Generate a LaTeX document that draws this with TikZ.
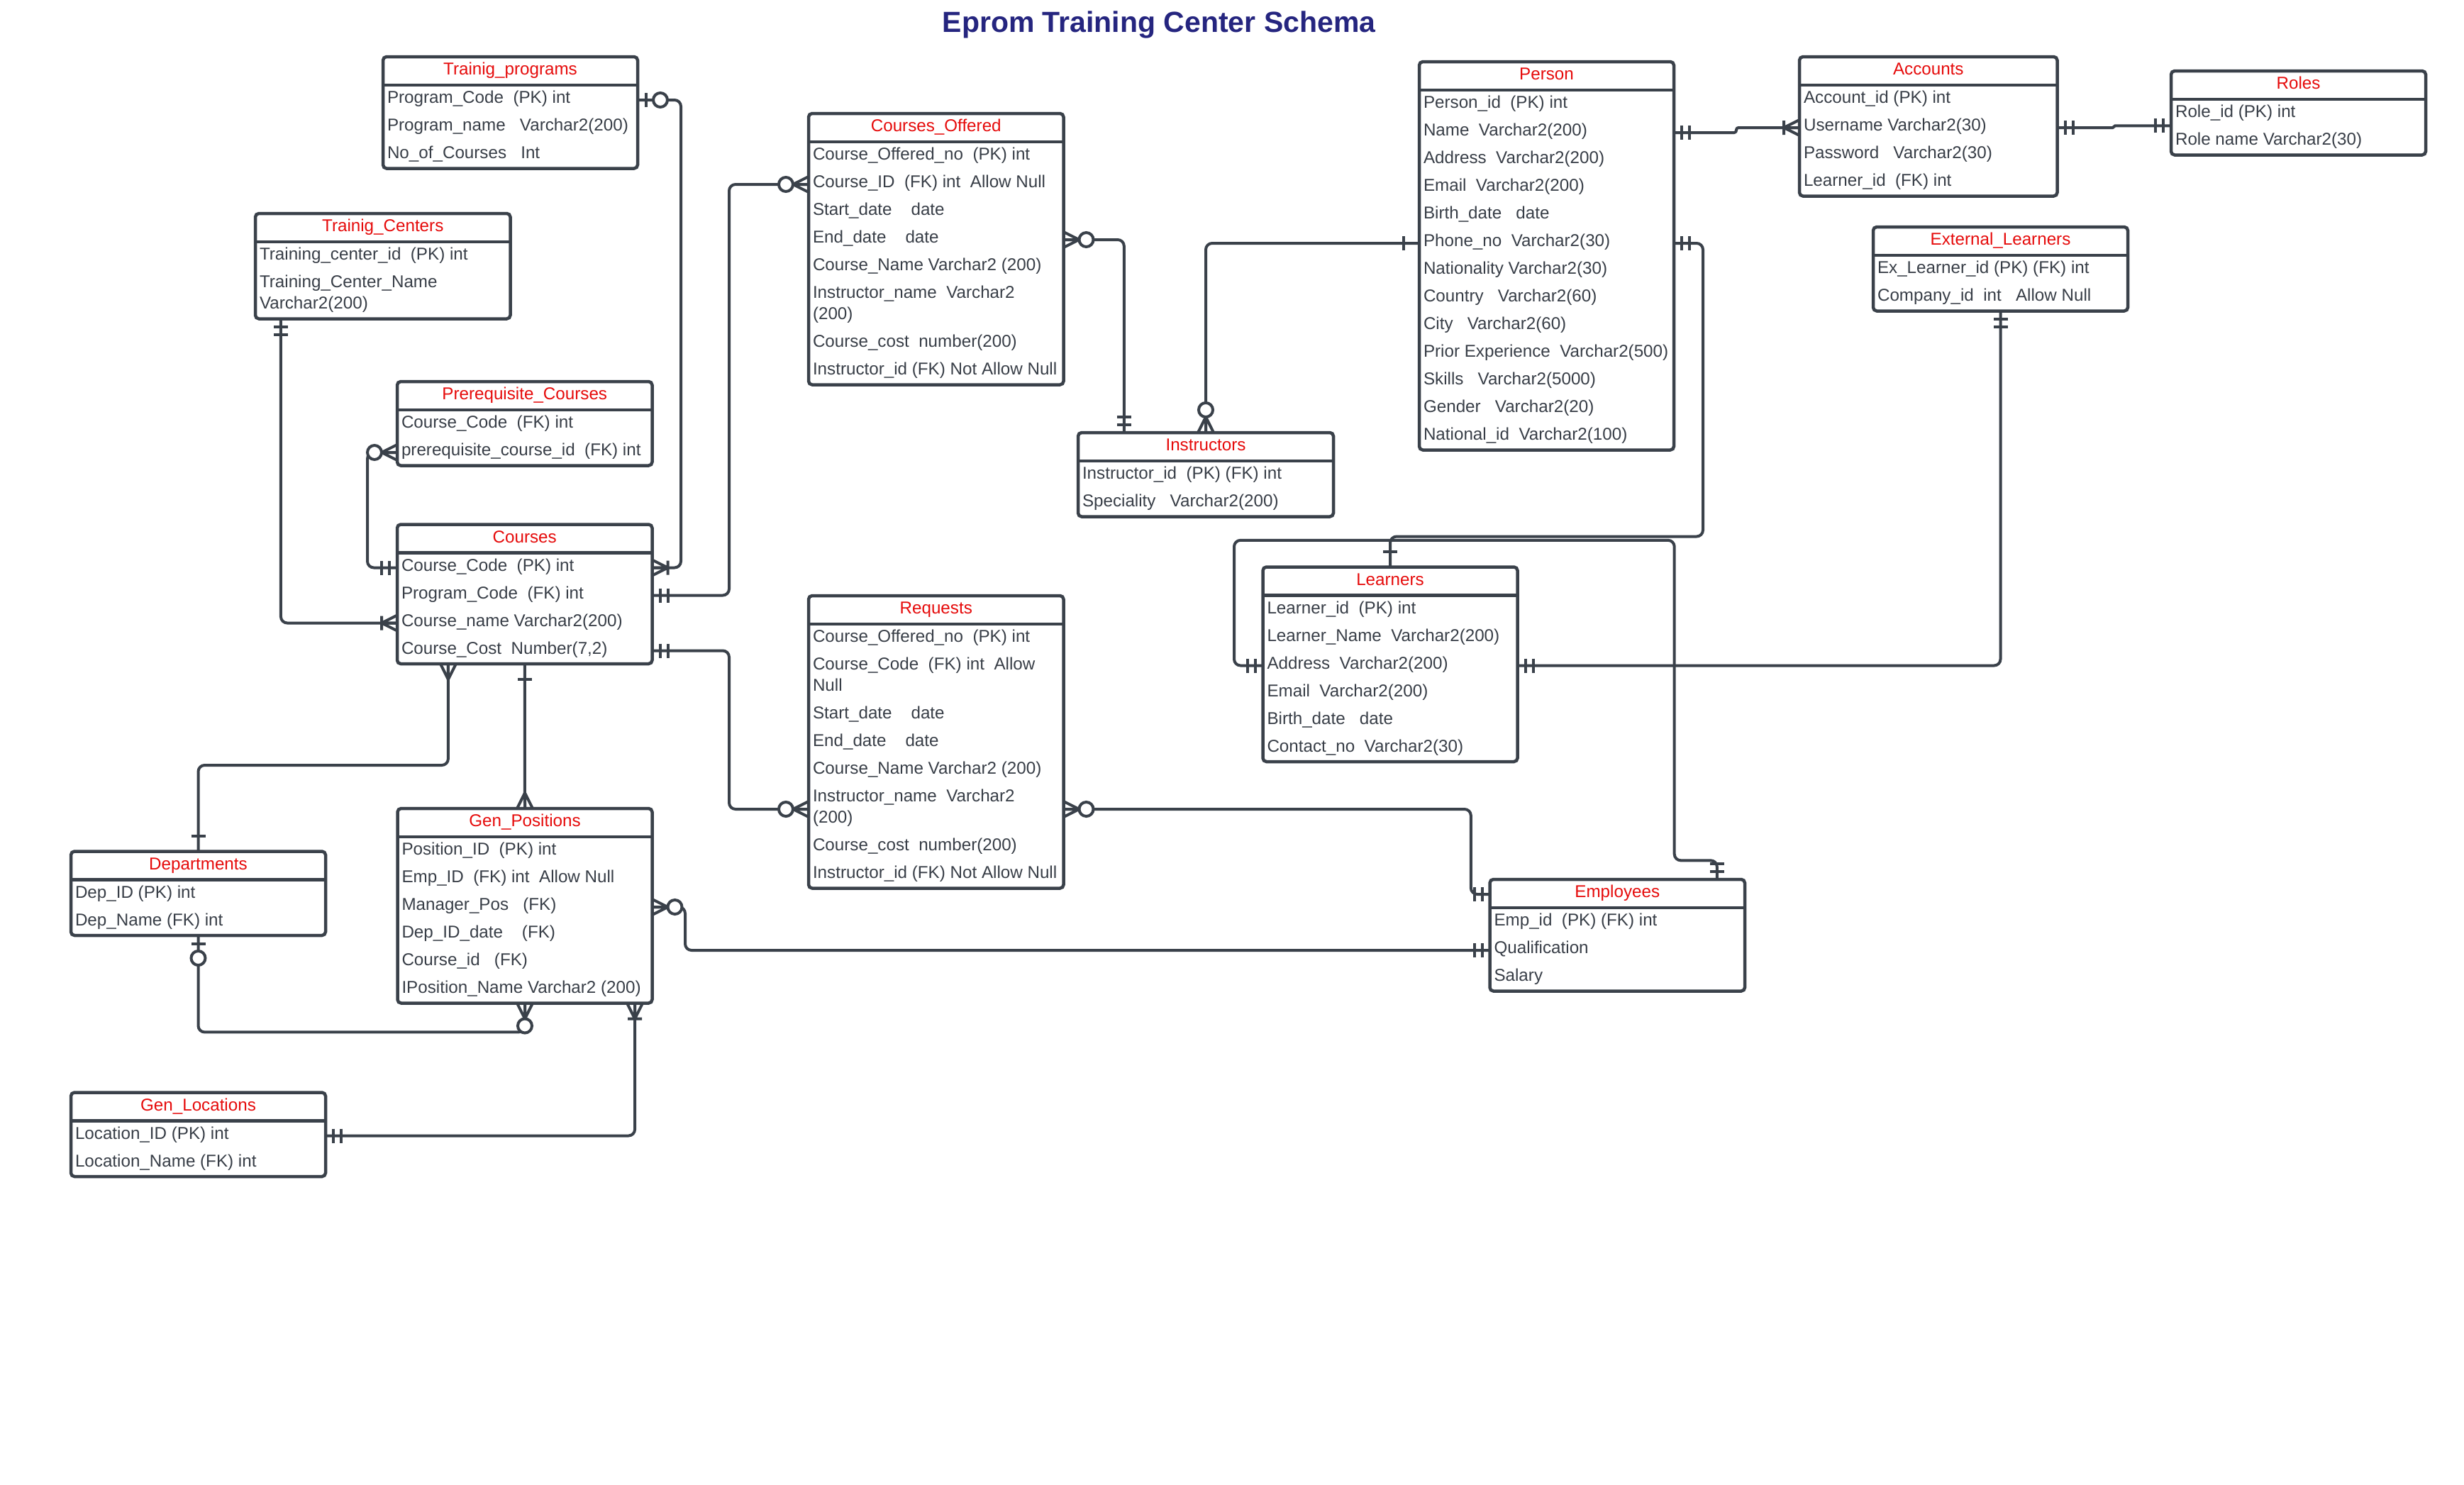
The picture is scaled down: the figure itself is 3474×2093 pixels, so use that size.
\documentclass[tikz,border=0pt]{standalone}
\usepackage{fontspec}
\setmainfont{Liberation Sans}
\usetikzlibrary{calc}
\definecolor{lc}{HTML}{3A414A}
\definecolor{tx}{HTML}{383E47}
\definecolor{hr}{HTML}{E60B0B}
\definecolor{tt}{HTML}{25257F}
\newcommand\rowfont{\fontsize{24.2pt}{30pt}\selectfont}
\tikzset{
  tbl/.style={draw=lc, line width=4.5pt, fill=white, rounded corners=5pt, inner sep=0pt, outer sep=0pt},
  hdr/.style={draw=lc, line width=4.5pt},
  rowtxt/.style={anchor=west, inner sep=0pt, outer sep=0pt, text height=16pt, text depth=7pt, font=\rowfont, text=tx},
  ttl/.style={rowtxt, anchor=center, text=hr},
  conn/.style={draw=lc, line width=4pt, rounded corners=9pt, line join=round},
  mkline/.style={draw=lc, line width=4pt},
  mkone/.pic={\draw[mkline] (22,-10)--(22,10);},
  mktwo/.pic={\draw[mkline] (11,-10)--(11,10) (22,-10)--(22,10);},
  mkzone/.pic={\draw[mkline] (12,-10)--(12,10); \draw[mkline,fill=white] (32,0) circle[radius=10pt];},
  mkmany/.pic={\draw[mkline] (0,-11)--(22,0)--(0,11) (0,0)--(22,0);},
  mkonemany/.pic={\draw[mkline] (0,-11)--(22,0)--(0,11) (0,0)--(22,0) (22,-10)--(22,10);},
  mkzmany/.pic={\draw[mkline] (0,-11)--(22,0)--(0,11) (0,0)--(22,0); \draw[mkline,fill=white] (32,0) circle[radius=10pt];},
}
\newcommand\ertable[6]{%
  \node[tbl, minimum width=#4pt, minimum height=#5pt, anchor=north west] (#1) at (#2,#3) {};
  \draw[hdr] ($(#1.north west)+(0,40)$) -- ($(#1.north east)+(0,40)$);
  \node[ttl] (#1-h) at ($(#1.north)+(0,21)$) {#6};}
\newcommand\erow[4]{\node[rowtxt] (#1) at ($(#2.north west)+(6,#3)$) {#4};}
\begin{document}
\begin{tikzpicture}[x=1pt,y=-1pt]
\fill[white] (0,0) rectangle (3474,2093);
\useasboundingbox (0,0) rectangle (3474,2093);

\node[anchor=base, inner sep=0pt, text=tt, font=\fontsize{41pt}{48pt}\selectfont\bfseries] (title) at (1634,46) {Eprom Training Center Schema};

% ---------- tables ----------
\ertable{tp}{540}{80}{359}{157.5}{Trainig\_programs}
\erow{tp-r1}{tp}{61}{Program\_Code~~(PK) int}
\erow{tp-r2}{tp}{100}{Program\_name~~~Varchar2(200)}
\erow{tp-r3}{tp}{139}{No\_of\_Courses~~~Int}

\ertable{tc}{360}{301}{359.5}{148.5}{Trainig\_Centers}
\erow{tc-r1}{tc}{61}{Training\_center\_id~~(PK) int}
\erow{tc-r2a}{tc}{100}{Training\_Center\_Name}
\erow{tc-r2b}{tc}{130}{Varchar2(200)}

\ertable{pc}{560}{538}{359.5}{118.5}{Prerequisite\_Courses}
\erow{pc-r1}{pc}{61}{Course\_Code~~(FK) int}
\erow{pc-r2}{pc}{100}{prerequisite\_course\_id~~(FK) int}

\ertable{cs}{560}{739.5}{359.5}{196.5}{Courses}
\erow{cs-r1}{cs}{61}{Course\_Code~~(PK) int}
\erow{cs-r2}{cs}{100}{Program\_Code~~(FK) int}
\erow{cs-r3}{cs}{139}{Course\_name Varchar2(200)}
\erow{cs-r4}{cs}{178}{Course\_Cost~~Number(7,2)}

\ertable{co}{1140}{160}{359.5}{382.5}{Courses\_Offered}
\erow{co-r1}{co}{61}{Course\_Offered\_no~~(PK) int}
\erow{co-r2}{co}{100}{Course\_ID~~(FK) int~~Allow Null}
\erow{co-r3}{co}{139}{Start\_date~~~~date}
\erow{co-r4}{co}{178}{End\_date~~~~date}
\erow{co-r5}{co}{217}{Course\_Name Varchar2 (200)}
\erow{co-r6a}{co}{256}{Instructor\_name~~Varchar2}
\erow{co-r6b}{co}{286}{(200)}
\erow{co-r7}{co}{325}{Course\_cost~~number(200)}
\erow{co-r8}{co}{364}{Instructor\_id (FK) Not Allow Null}

\ertable{in}{1520}{610}{360}{118.5}{Instructors}
\erow{in-r1}{in}{61}{Instructor\_id~~(PK) (FK) int}
\erow{in-r2}{in}{100}{Speciality~~~Varchar2(200)}

\ertable{rq}{1140}{840}{359.5}{412.5}{Requests}
\erow{rq-r1}{rq}{61}{Course\_Offered\_no~~(PK) int}
\erow{rq-r2a}{rq}{100}{Course\_Code~~(FK) int~~Allow}
\erow{rq-r2b}{rq}{130}{Null}
\erow{rq-r3}{rq}{169}{Start\_date~~~~date}
\erow{rq-r4}{rq}{208}{End\_date~~~~date}
\erow{rq-r5}{rq}{247}{Course\_Name Varchar2 (200)}
\erow{rq-r6a}{rq}{286}{Instructor\_name~~Varchar2}
\erow{rq-r6b}{rq}{316}{(200)}
\erow{rq-r7}{rq}{355}{Course\_cost~~number(200)}
\erow{rq-r8}{rq}{394}{Instructor\_id (FK) Not Allow Null}
\coordinate (rq-r6) at ($(rq-r6a.west)!0.5!(rq-r6b.west)$);

\ertable{ps}{2001}{87}{359}{547.5}{Person}
\erow{ps-r1}{ps}{61}{Person\_id~~(PK) int}
\erow{ps-r2}{ps}{100}{Name~~Varchar2(200)}
\erow{ps-r3}{ps}{139}{Address~~Varchar2(200)}
\erow{ps-r4}{ps}{178}{Email~~Varchar2(200)}
\erow{ps-r5}{ps}{217}{Birth\_date~~~date}
\erow{ps-r6}{ps}{256}{Phone\_no~~Varchar2(30)}
\erow{ps-r7}{ps}{295}{Nationality Varchar2(30)}
\erow{ps-r8}{ps}{334}{Country~~~Varchar2(60)}
\erow{ps-r9}{ps}{373}{City~~~Varchar2(60)}
\erow{ps-r10}{ps}{412}{Prior Experience~~Varchar2(500)}
\erow{ps-r11}{ps}{451}{Skills~~~Varchar2(5000)}
\erow{ps-r12}{ps}{490}{Gender~~~Varchar2(20)}
\erow{ps-r13}{ps}{529}{National\_id~~Varchar2(100)}

\ertable{ac}{2537}{80}{363.5}{196.5}{Accounts}
\erow{ac-r1}{ac}{61}{Account\_id (PK) int}
\erow{ac-r2}{ac}{100}{Username Varchar2(30)}
\erow{ac-r3}{ac}{139}{Password~~~Varchar2(30)}
\erow{ac-r4}{ac}{178}{Learner\_id~~(FK) int}

\ertable{rl}{3061}{100}{359}{118.5}{Roles}
\erow{rl-r1}{rl}{61}{Role\_id (PK) int}
\erow{rl-r2}{rl}{100}{Role name Varchar2(30)}

\ertable{el}{2641}{320}{359}{118.5}{External\_Learners}
\erow{el-r1}{el}{61}{Ex\_Learner\_id (PK) (FK) int}
\erow{el-r2}{el}{100}{Company\_id~~int~~~Allow Null}

\ertable{ln}{1780.5}{799.5}{359}{274.5}{Learners}
\erow{ln-r1}{ln}{61}{Learner\_id~~(PK) int}
\erow{ln-r2}{ln}{100}{Learner\_Name~~Varchar2(200)}
\erow{ln-r3}{ln}{139}{Address~~Varchar2(200)}
\erow{ln-r4}{ln}{178}{Email~~Varchar2(200)}
\erow{ln-r5}{ln}{217}{Birth\_date~~~date}
\erow{ln-r6}{ln}{256}{Contact\_no~~Varchar2(30)}

\ertable{em}{2100.5}{1240}{359.5}{157.5}{Employees}
\erow{em-r1}{em}{61}{Emp\_id~~(PK) (FK) int}
\erow{em-r2}{em}{100}{Qualification}
\erow{em-r3}{em}{139}{Salary}

\ertable{dp}{100}{1200.5}{359}{118.5}{Departments}
\erow{dp-r1}{dp}{61}{Dep\_ID (PK) int}
\erow{dp-r2}{dp}{100}{Dep\_Name (FK) int}

\ertable{gp}{560.5}{1140}{359}{274.5}{Gen\_Positions}
\erow{gp-r1}{gp}{61}{Position\_ID~~(PK) int}
\erow{gp-r2}{gp}{100}{Emp\_ID~~(FK) int~~Allow Null}
\erow{gp-r3}{gp}{139}{Manager\_Pos~~~(FK)}
\erow{gp-r4}{gp}{178}{Dep\_ID\_date~~~~(FK)}
\erow{gp-r5}{gp}{217}{Course\_id~~~(FK)}
\erow{gp-r6}{gp}{256}{IPosition\_Name Varchar2 (200)}

\ertable{gl}{100}{1540.5}{359}{118.5}{Gen\_Locations}
\erow{gl-r1}{gl}{61}{Location\_ID (PK) int}
\erow{gl-r2}{gl}{100}{Location\_Name (FK) int}

% ---------- attachment points ----------
\coordinate (tcb) at ($(tc.south west)!0.1!(tc.south east)$);
\coordinate (intop) at ($(in.north west)!0.18!(in.north east)$);
\coordinate (rlw) at ($(rl.north west)!0.652!(rl.south west)$);
\coordinate (emtop) at ($(em.north west)!0.891!(em.north east)$);
\coordinate (csb) at ($(cs.south west)!0.2!(cs.south east)$);
\coordinate (gpb) at ($(gp.south west)!0.932!(gp.south east)$);

% ---------- connectors ----------
\draw[conn] (tp.east |- tp-r1) -- ++(61,0) |- (cs.east |- cs-r1);
\draw[conn] (tcb) |- (cs.west |- cs-r3);
\draw[conn] (pc.west |- pc-r2) -- ++(-42,0) |- (cs.west |- cs-r1);
\draw[conn] (cs.east |- cs-r2) -- ++(108.5,0) |- (co.west |- co-r2);
\draw[conn] (cs.east |- cs-r4) -- ++(108.5,0) |- (rq.west |- rq-r6);
\draw[conn] (co.east |- co-r4) -| (intop);
\draw[conn] (ps.west |- ps-r6) -| (in.north);
\draw[conn, rounded corners=3pt] (ps.east |- ps-r2) -- ++(88,0) |- (ac.west |- ac-r2);
\draw[conn, rounded corners=1.5pt] (ac.east |- ac-r2) -- ++(80,0) |- (rlw);
\draw[conn] (ps.east |- ps-r6) -- ++(41,0) -- ++(0,413.5) -| (ln.north);
\draw[conn] (ln.west |- ln-r3) -- ++(-40.5,0) -- ++(0,-176.7) -- ++(620.7,0) -- ++(0,451.5) -| (emtop);
\draw[conn] (el.south) |- (ln.east |- ln-r3);
\draw[conn] (rq.east |- rq-r6) -- ++(574.3,0) |- (em.west |- em-h);
\draw[conn] (gp.east |- gp-r3) -- ++(46.5,0) |- (em.west |- em-r2);
\draw[conn] (csb) -- ++(0,143) -| (dp.north);
\draw[conn] (cs.south) -- (gp.north);
\draw[conn] (dp.south) -- ++(0,136.4) -| (gp.south);
\draw[conn] (gpb) |- (gl.east |- gl-r1);

% ---------- end markers ----------
\pic at (tp.east |- tp-r1) {mkzone};
\pic at (cs.east |- cs-r1) {mkonemany};
\pic[rotate=-90] at (tcb) {mktwo};
\pic[rotate=180] at (cs.west |- cs-r3) {mkonemany};
\pic[rotate=180] at (pc.west |- pc-r2) {mkzmany};
\pic[rotate=180] at (cs.west |- cs-r1) {mktwo};
\pic at (cs.east |- cs-r2) {mktwo};
\pic[rotate=180] at (co.west |- co-r2) {mkzmany};
\pic at (cs.east |- cs-r4) {mktwo};
\pic[rotate=180] at (rq.west |- rq-r6) {mkzmany};
\pic at (co.east |- co-r4) {mkzmany};
\pic[rotate=90] at (intop) {mktwo};
\pic[rotate=180] at (ps.west |- ps-r6) {mkone};
\pic[rotate=90] at (in.north) {mkzmany};
\pic at (ps.east |- ps-r2) {mktwo};
\pic[rotate=180] at (ac.west |- ac-r2) {mkonemany};
\pic at (ac.east |- ac-r2) {mktwo};
\pic[rotate=180] at (rlw) {mktwo};
\pic at (ps.east |- ps-r6) {mktwo};
\pic[rotate=90] at (ln.north) {mkone};
\pic[rotate=180] at (ln.west |- ln-r3) {mktwo};
\pic[rotate=90] at (emtop) {mktwo};
\pic[rotate=-90] at (el.south) {mktwo};
\pic at (ln.east |- ln-r3) {mktwo};
\pic at (rq.east |- rq-r6) {mkzmany};
\pic[rotate=180] at (em.west |- em-h) {mktwo};
\pic at (gp.east |- gp-r3) {mkzmany};
\pic[rotate=180] at (em.west |- em-r2) {mktwo};
\pic[rotate=-90] at (csb) {mkmany};
\pic[rotate=90] at (dp.north) {mkone};
\pic[rotate=-90] at (cs.south) {mkone};
\pic[rotate=90] at (gp.north) {mkmany};
\pic[rotate=-90] at (dp.south) {mkzone};
\pic[rotate=-90] at (gp.south) {mkzmany};
\pic[rotate=-90] at (gpb) {mkonemany};
\pic at (gl.east |- gl-r1) {mktwo};
\end{tikzpicture}
\end{document}
